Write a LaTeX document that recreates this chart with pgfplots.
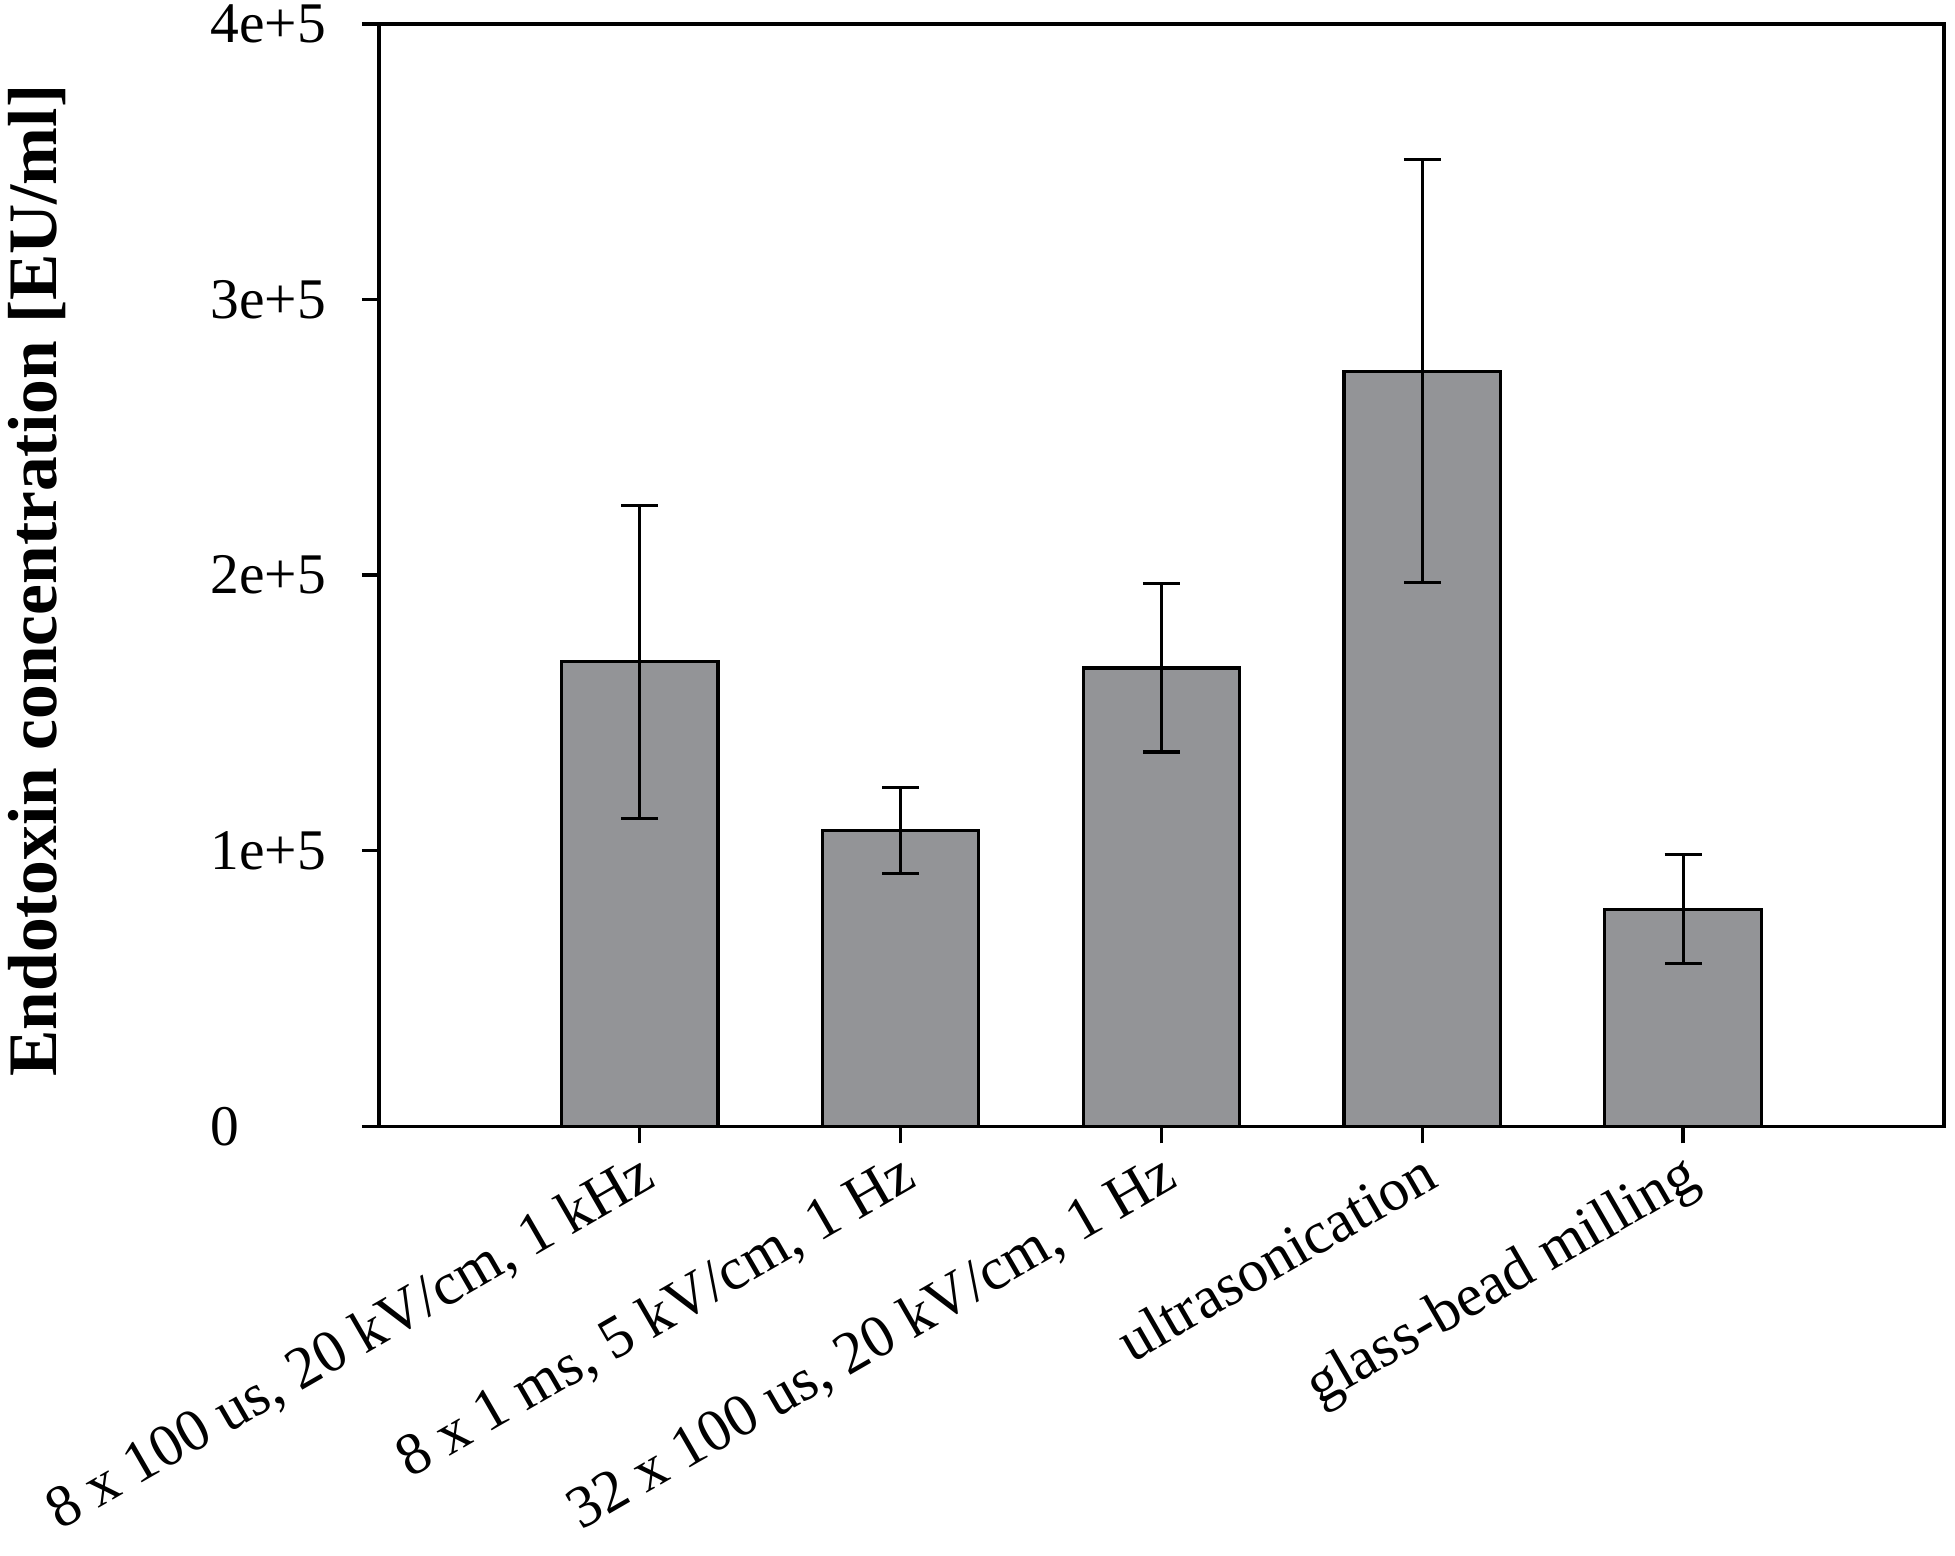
\documentclass[border=0pt]{standalone}
\usepackage{pgfplots}
\pgfplotsset{compat=1.18}
\usepackage{fontspec}
\setmainfont{Liberation Serif}
\definecolor{barfill}{RGB}{147,148,151}
\begin{document}
\begin{tikzpicture}
\useasboundingbox (-79.1pt,-89.6pt) rectangle (329.0pt,235.1pt);
\begin{axis}[
  width=326.7pt, height=230.1pt, scale only axis,
  xmin=-1, xmax=5, ymin=0, ymax=400000,
  axis line style={line width=0.7pt, black},
  tick style={line width=0.7pt, black},
  major tick length=3.55pt,
  tick align=outside,
  xtick pos=bottom, ytick pos=left,
  xtick={0,1,2,3,4},
  xticklabels={{8 x 100 us, 20 kV/cm, 1 kHz},{8 x 1 ms, 5 kV/cm, 1 Hz},{32 x 100 us, 20 kV/cm, 1 Hz},{ultrasonication},{glass-bead milling}},
  ytick={0,100000,200000,300000,400000},
  yticklabels={0,1e+5,2e+5,3e+5,4e+5},
  scaled y ticks=false,
  /pgf/number format/assume math mode=true,
  xticklabel style={font=\fontsize{12.5}{15}\selectfont, xshift=-0.5pt, yshift=-1pt, rotate=30, anchor=north east, inner sep=0pt},
  yticklabel style={font=\fontsize{12}{14}\selectfont, anchor=east, text width=24.4pt, align=left, inner sep=0pt, xshift=-7pt},
  ylabel={Endotoxin concentration [EU/ml]},
  ylabel style={font=\fontsize{14.5}{17}\selectfont\bfseries, at={(axis description cs:-0.2186,0.495)}, anchor=center},
]
\addplot[ybar, bar width=0.6, fill=barfill, draw=black, line width=0.65pt,
  error bars/.cd, y dir=both, y explicit,
  error bar style={line width=0.65pt, black},
  error mark options={rotate=90, mark size=3.85pt, line width=0.65pt, black}]
  coordinates {
  (0,168500) +- (0,56800)
  (1,107400) +- (0,15600)
  (2,166300) +- (0,30500)
  (3,274000) +- (0,76700)
  (4,78800) +- (0,19900)
  };
\end{axis}
\end{tikzpicture}
\end{document}
